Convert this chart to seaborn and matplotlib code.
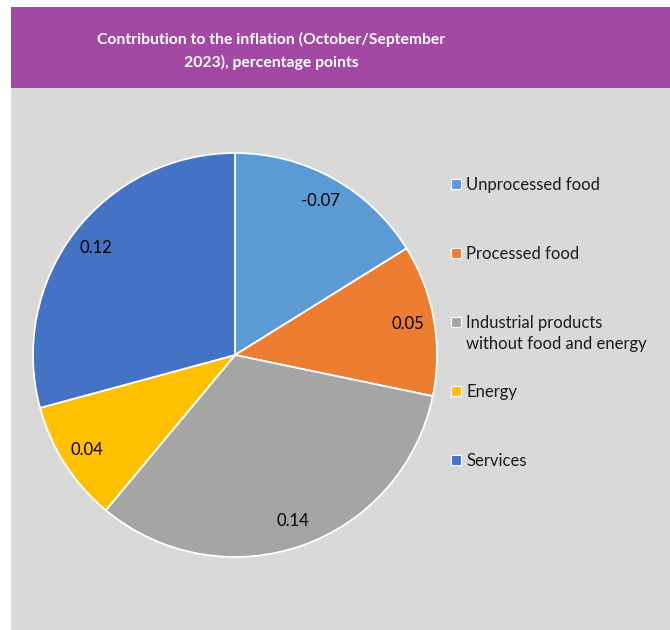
import matplotlib
matplotlib.use("Agg")
import matplotlib.pyplot as plt
import seaborn as sns
from matplotlib.patches import Rectangle

# Data (shown rounded to 2 decimals)
categories = ["Unprocessed food", "Processed food",
              "Industrial products", "Energy", "Services"]
extra_line = {2: "without food and energy"}
contributions = [-0.068, 0.051, 0.138, 0.041, 0.123]
colors = ["#5B9BD5", "#ED7D31", "#A5A5A5", "#FFC000", "#4472C4"]
title = "Contribution to the inflation (October/September\n2023), percentage points"

sns.set_theme(style="white")
plt.rcParams["font.family"] = ["Lato", "DejaVu Sans"]

fig = plt.figure(figsize=(6.7, 6.3), dpi=100, facecolor="white")

# panel backgrounds
fig.patches.append(Rectangle((11 / 670, 0), 1, 542 / 630, transform=fig.transFigure,
                             facecolor="#D9D9D9", edgecolor="none", zorder=-2))
fig.patches.append(Rectangle((11 / 670, 542 / 630), 1, 81 / 630, transform=fig.transFigure,
                             facecolor="#A349A4", edgecolor="none", zorder=-2))
fig.text(271 / 670, 1 - 51 / 630, title, ha="center", va="center", color="white",
         fontsize=11.3, fontweight="bold", linespacing=1.65)

ax = fig.add_axes([33 / 670, 73 / 630, 404 / 670, 404 / 630])
ax.set_facecolor("none")

labels = iter(f"{v:.2f}" for v in contributions)
wedges, _, autotexts = ax.pie([abs(v) for v in contributions], colors=colors,
                              startangle=90, counterclock=False, radius=1,
                              autopct=lambda p: next(labels), pctdistance=0.87,
                              wedgeprops=dict(edgecolor="white", linewidth=1.3),
                              textprops=dict(fontsize=12, color="black"))
ax.set_xlim(-1.0, 1.0)
ax.set_ylim(-1.0, 1.0)
ax.set_aspect("equal")
ax.axis("off")

leg = fig.legend(wedges, categories, loc="upper left",
                 bbox_to_anchor=(436 / 670, 1 - 162 / 630), frameon=False,
                 fontsize=12, labelspacing=3.18, handlelength=0.6, handleheight=0.6,
                 handletextpad=0.33)
for h in leg.legend_handles:
    h.set_edgecolor("white")
    h.set_linewidth(0.8)
for t in leg.get_texts():
    t.set_color("#1a1a1a")

# second line of a legend entry hangs below its first line
for i, txt in extra_line.items():
    fig.add_artist(plt.Annotation(txt, xy=(0, 0), xycoords=leg.get_texts()[i],
                                  xytext=(0, -5), textcoords="offset pixels",
                                  ha="left", va="top", fontsize=12, color="#1a1a1a",
                                  zorder=10))

fig.savefig("out.png", dpi=100, facecolor="white")
